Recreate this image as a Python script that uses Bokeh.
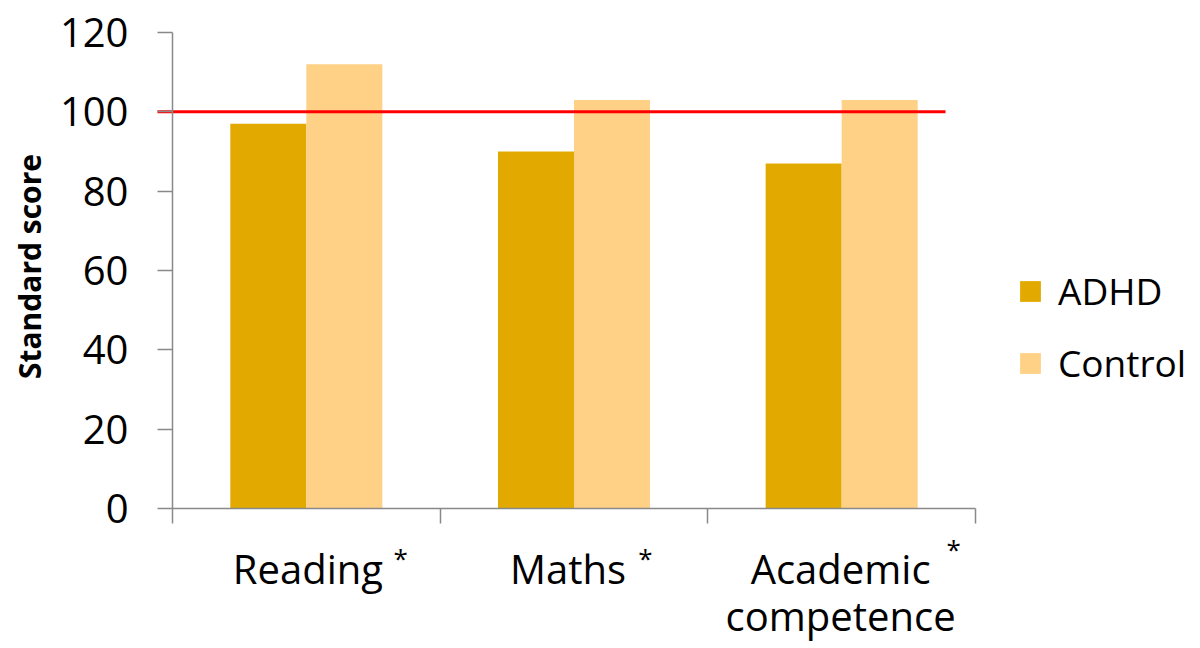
from bokeh.plotting import figure
from bokeh.models import (ColumnDataSource, FixedTicker, Label, Legend,
                          LegendItem, Range1d, LinearAxis)
from bokeh.embed import file_html
from bokeh.resources import INLINE

# Data
categories = ["Reading", "Maths", "Academic competence"]
adhd = [97, 90, 87]
control = [112, 103, 103]
norm_score = 100
y_ticks = [0, 20, 40, 60, 80, 100, 120]

ADHD_COLOR = "#E2AA00"
CONTROL_COLOR = "#FED186"
AXIS_COLOR = "#898989"
FONT = "Open Sans"

W, H = 1200, 648
# pixel geometry of the plotting area inside the canvas
AX_LEFT, AX_RIGHT, AX_TOP, AX_BOTTOM = 172, 975, 32, 508
n_cat = len(categories)
px_x = (AX_RIGHT - AX_LEFT) / n_cat
px_y = (AX_BOTTOM - AX_TOP) / 120.0

x_range = Range1d(-AX_LEFT / px_x, n_cat + (W - AX_RIGHT) / px_x)
y_range = Range1d(-(H - AX_BOTTOM) / px_y, 120 + AX_TOP / px_y)

bar_w = 0.284
centers = [i + 0.5 for i in range(n_cat)]
src = ColumnDataSource(dict(
    x_adhd=[c - bar_w / 2 for c in centers],
    x_ctrl=[c + bar_w / 2 for c in centers],
    adhd=adhd,
    control=control,
))

p = figure(width=W, height=H, output_backend="svg", toolbar_location=None,
           x_range=x_range, y_range=y_range, x_axis_type=None, y_axis_type=None,
           min_border=0, min_border_left=0, min_border_right=0,
           min_border_top=0, min_border_bottom=0)
p.outline_line_color = None
p.grid.visible = False
p.background_fill_color = "white"
p.border_fill_color = "white"

r1 = p.vbar(x="x_adhd", top="adhd", width=bar_w, source=src,
            fill_color=ADHD_COLOR, line_color=None)
r2 = p.vbar(x="x_ctrl", top="control", width=bar_w, source=src,
            fill_color=CONTROL_COLOR, line_color=None)

# Reference line at the normative mean
p.line(x=[-0.056, 2.888], y=[norm_score, norm_score], line_color="#FF0000", line_width=3)

# Axes pinned at the data origin
yaxis = LinearAxis(fixed_location=0, bounds=(0, 120), ticker=FixedTicker(ticks=y_ticks))
xaxis = LinearAxis(fixed_location=0, bounds=(0, n_cat), ticker=FixedTicker(ticks=list(range(n_cat + 1))))
for ax in (xaxis, yaxis):
    ax.axis_line_color = AXIS_COLOR
    ax.axis_line_width = 1.5
    ax.major_tick_line_color = AXIS_COLOR
    ax.major_tick_line_width = 1.5
    ax.major_tick_out = 15
    ax.major_tick_in = 0
    ax.minor_tick_line_color = None
xaxis.major_label_text_font_size = "0px"
xaxis.major_label_text_color = None
yaxis.major_label_text_font = FONT
yaxis.major_label_text_font_size = "40px"
yaxis.major_label_text_color = "black"
yaxis.major_label_standoff = 29
p.add_layout(yaxis, "left")
p.add_layout(xaxis, "below")

# Y axis title
p.add_layout(Label(x=-0.534, y=61, text="Standard score", angle=1.5708,
                   text_font=FONT, text_font_size="30px", text_font_style="bold",
                   text_align="center", text_baseline="middle", text_color="black"))

# Category labels with significance markers
word_x = [0.506, 1.478, 2.496]
star_x = [0.852, 1.767, 2.918]
star_y = [-12.4, -12.4, -10.1]
first_lines = ["Reading", "Maths", "Academic"]
for wx, txt in zip(word_x, first_lines):
    p.add_layout(Label(x=wx, y=-15.1, text=txt, text_font=FONT, text_font_size="40px",
                       text_align="center", text_baseline="alphabetic", text_color="black"))
p.add_layout(Label(x=word_x[2], y=-27.0, text="competence", text_font=FONT,
                   text_font_size="40px", text_align="center",
                   text_baseline="alphabetic", text_color="black"))
for sx, sy in zip(star_x, star_y):
    p.add_layout(Label(x=sx, y=sy, text="*", text_font=FONT, text_font_size="26px",
                       text_align="center", text_baseline="alphabetic", text_color="black"))

# Legend
legend = Legend(items=[LegendItem(label="ADHD", renderers=[r1]),
                       LegendItem(label="Control", renderers=[r2])],
                location=(1017, 260), orientation="vertical",
                glyph_width=26, glyph_height=26, label_height=26,
                label_text_font=FONT, label_text_font_size="37px",
                label_text_color="black",
                label_standoff=15, spacing=21, padding=0, margin=0,
                border_line_color=None, background_fill_alpha=0)
p.add_layout(legend)

open("out.html", "w").write(file_html(p, INLINE))
